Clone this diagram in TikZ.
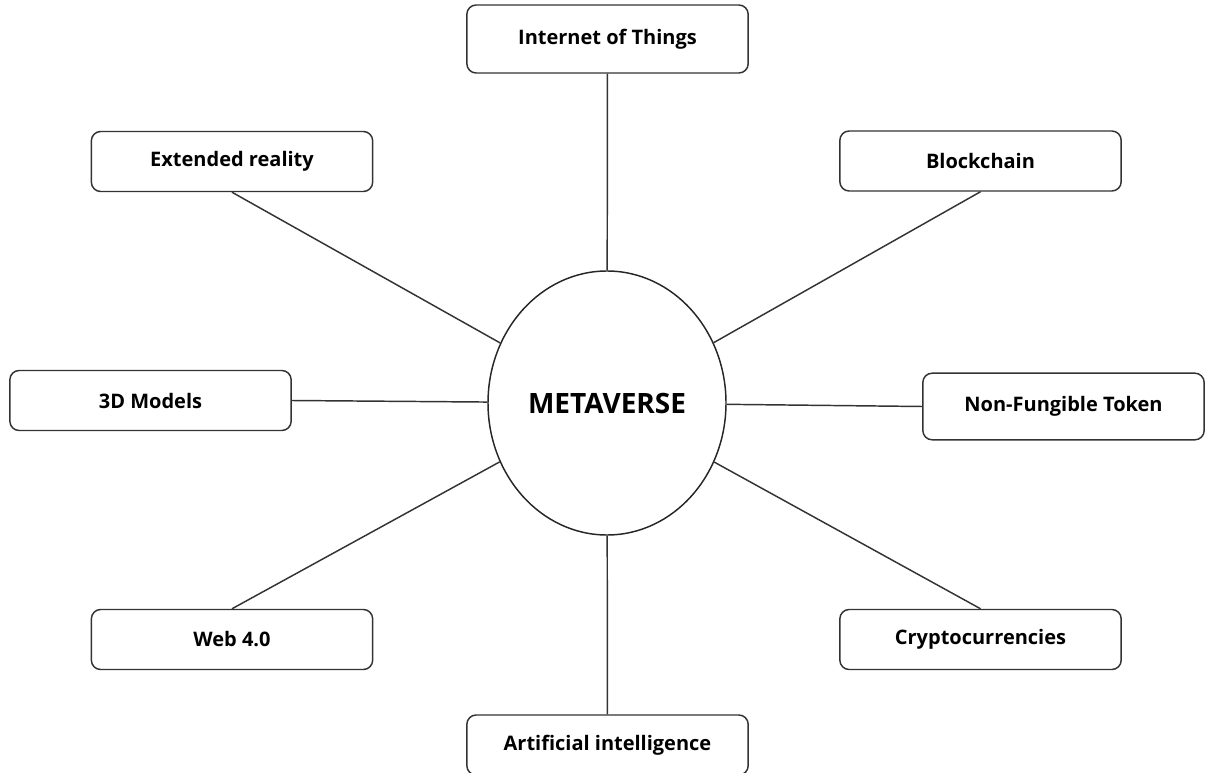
\documentclass[tikz,border=0pt]{standalone}
\usepackage{fontspec}
\setmainfont{Open Sans}
\usetikzlibrary{positioning,shapes}

\begin{document}
\begin{tikzpicture}[
        x=0.75pt, y=-0.75pt,
        topic/.style={draw=black!80, line width=1.1pt, align=center, minimum width=211pt, minimum height=45pt, inner sep=0pt, rounded corners=7pt, font=\fontsize{15}{15}\selectfont\bfseries},
        hub/.style={ellipse, draw=black!85, line width=1.1pt, minimum width=178.5pt, minimum height=198pt, inner sep=0pt, font=\fontsize{21}{21}\selectfont\bfseries},
        link/.style={draw=black!80, line width=1.1pt}
      ]
      \useasboundingbox (0,0) rectangle (1213,773);

      \node (Meta) [hub] at (607,403) {METAVERSE};

      \node (IoT) [topic, minimum height=51pt] at (607.5,39) {Internet of Things};
      \node (XR) [topic] at (232,161.5) {Extended reality};
      \node (BC) [topic] at (980.5,161) {Blockchain};
      \node (Models) [topic] at (150.5,400.5) {3D Models};
      \node (NFT) [topic, minimum height=50pt] at (1063.5,406.5) {Non-Fungible Token};
      \node (Web) [topic] at (232,639.5) {Web 4.0};
      \node (Crypto) [topic] at (980.5,639.5) {Cryptocurrencies};
      \node (AI) [topic] at (607.5,745) {Artificial intelligence};

      \path[link] (IoT) edge (Meta);
      \path[link] (XR.south) edge (Meta);
      \path[link] (BC.south) edge (Meta);
      \path[link] (Models.east) edge (Meta);
      \path[link] (NFT.west) edge (Meta);
      \path[link] (Web.north) edge (Meta);
      \path[link] (Crypto.north) edge (Meta);
      \path[link] (AI) edge (Meta);

    \end{tikzpicture}
\end{document}
